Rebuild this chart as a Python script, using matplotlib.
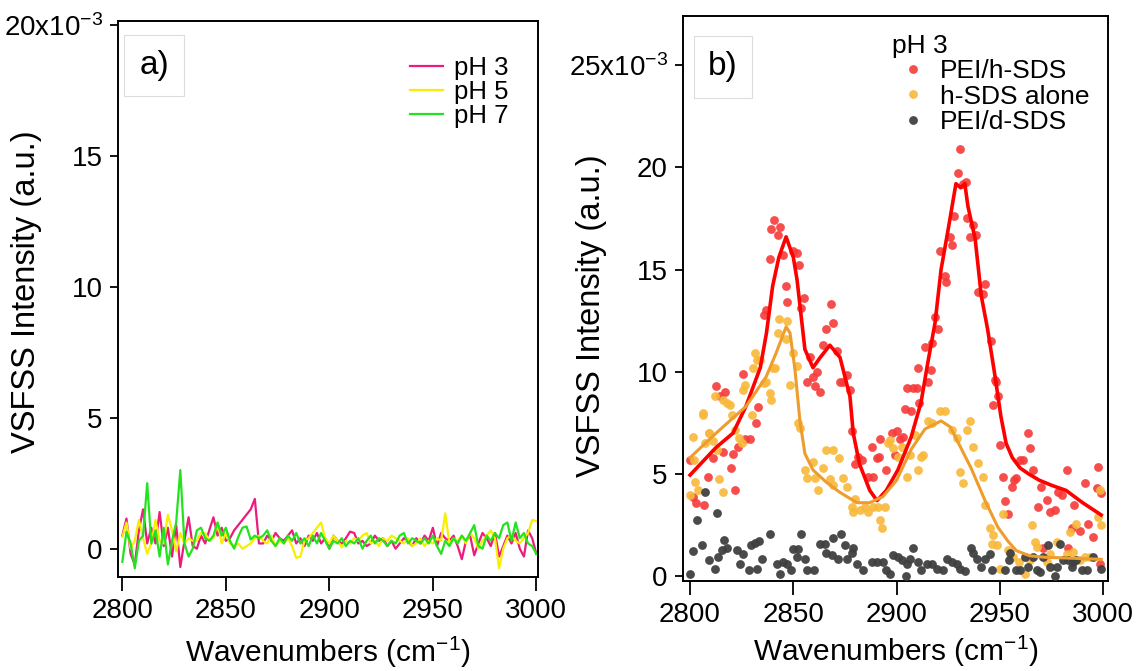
import numpy as np
import matplotlib
matplotlib.use('Agg')
import matplotlib.pyplot as plt
from matplotlib.ticker import FuncFormatter, MultipleLocator
from matplotlib.patches import Rectangle

plt.rcParams['font.family'] = ['Liberation Sans', 'DejaVu Sans']
plt.rcParams['mathtext.default'] = 'regular'

# ---- panel a) : spectra at three pH values (x10^-3) ----
wn = np.arange(2800, 3001, 2)

ph3 = [0.5, 1.15, -0.2, -0.6, 0.7, 1.5, 0.2, 0.8, 0.2, 1.4,
       0.1, 0.8, -0.3, 0.9, -0.7, 0.3, 1.2, 0.1, 0.0, 0.5,
       0.2, 0.7, 1.2, 0.5, 0.8, 0.3, 0.4, 0.7, 0.9, 1.1,
       1.3, 1.5, 1.9, 0.2,
       0.2, 0.5, 0.3, 0.6, 0.4, 0.3, 0.5, 0.7, 0.2, 0.4,
       0.1, 0.5, 0.3, 0.6, 0.2, 0.4, 0.0, 0.5, 0.3, 0.2,
       0.4, 0.65, 0.6, 0.2, 0.3, 0.1, 0.2, 0.5, 0.3, 0.4,
       0.1, 0.3, 0.0, 0.2, 0.4, 0.3, 0.1, 0.4, 0.2, 0.5,
       0.3, 0.8, 0.1, 0.6, 0.4, 0.3, 0.5, 0.1, -0.4, 0.3,
       0.5, -0.25, 0.2, 0.6, 0.4, 0.1, 0.6, -0.3, 0.1, 0.5,
       0.2, 0.6, 0.0, -0.3, 0.7, 0.4, -0.2]
ph5 = [0.45, 1.0, 0.0, 0.3, 1.1, 0.4, -0.2, 0.2, 1.1, 0.3,
       0.2, 1.3, 0.7, -0.1, 0.6, 0.2, 0.4, 0.3, 0.3, 0.6,
       0.6, 0.3, 0.4, 1.0, 0.2, 0.6, 0.2, 0.1, 0.2, 0.0,
       0.1, 0.2, 0.4, 0.5,
       0.3, 0.2, 0.5, 0.1, 0.3, 0.2, 0.4, 0.1, -0.35, -0.3,
       0.3, 0.4, 0.6, 0.8, 1.0, 0.4, 0.2, 0.5, 0.3, 0.05,
       0.3, 0.2, 0.4, 0.3, 0.5, 0.6, 0.2, 0.3, 0.1, 0.4,
       0.3, 0.5, 0.4, 0.3, 0.2, 0.4, 0.1, 0.2, 0.4, 0.1,
       0.3, 0.2, 0.4, 0.3, 1.35, 0.2, 0.4, 0.3, 0.5, 0.2,
       0.6, 0.4, 0.0, 0.3, 0.5, 0.7, 0.4, -0.75, 0.0, 0.4,
       0.5, 0.3, 0.2, 0.4, 0.6, 1.1, 1.05]
ph7 = [-0.5, 0.65, 0.2, -0.75, 0.3, 0.5, 2.5, 0.2, 0.7, -0.3,
       0.8, -0.6, 0.3, 1.0, 3.0, 0.2, -0.3, 0.0, 0.7, 0.8,
       0.4, 0.3, 0.5, 1.0, 0.5, 0.8, 0.3, 0.0, 0.45, 0.8,
       0.85, 0.35, 0.5, 0.4,
       0.5, 0.7, 0.3, 0.1, 0.4, 0.2, 0.5, 0.3, 0.6, 0.2,
       0.4, 0.1, 0.5, 0.2, 0.6, 0.3, 0.0, 0.3, 0.2, 0.4,
       0.1, 0.3, 0.2, 0.4, 0.0, 0.3, 0.5, 0.2, 0.4, 0.3,
       0.1, 0.3, 0.2, 0.5, 0.6, 0.2, 0.4, 0.3, 0.2, 0.4,
       0.2, 0.5, 0.1, -0.2, 0.3, 0.1, 0.4, 0.2, 0.5, 0.3,
       0.6, 0.9, 0.1, 0.0, 0.5, 0.3, 0.6, 0.4, 0.9, 1.0,
       0.3, 1.0, 0.4, 0.6, 0.2, 0.1, -0.2]

# ---- panel b) : pH 3, scatter + fits (x10^-3) ----
red_x = [2800, 2801.5, 2803, 2807, 2808.7, 2811, 2812.6, 2814.5, 2816, 2817,
         2819.6, 2822, 2821, 2823, 2826.6, 2825.6, 2829, 2832, 2833, 2836,
         2836.8, 2838.7, 2839.4, 2840.6, 2843.5, 2842.6, 2845, 2846.3, 2847, 2849.8,
         2851.8, 2852.7, 2855, 2853.7, 2858, 2856.6, 2859.5, 2860.5, 2861.4, 2863,
         2864.4, 2866, 2868, 2869, 2871, 2872.6, 2874.2, 2876, 2877.4, 2878.4,
         2880, 2881.5, 2883, 2886, 2888, 2888.7, 2890.5, 2891.6, 2892, 2895,
         2897.7, 2899.2, 2900, 2901.6, 2903, 2904, 2904.8, 2907, 2908, 2909.7,
         2910.5, 2911, 2913.7, 2915, 2916.6, 2917, 2918.6, 2920, 2921, 2923.4,
         2924, 2926, 2926.6, 2928, 2929.7, 2930.6, 2932, 2933.6, 2934, 2935.5,
         2937, 2938.4, 2939.4, 2942.8, 2941.8, 2945.6, 2947.6, 2948, 2946.6, 2949,
         2950, 2951.6, 2952.4, 2954, 2955.6, 2957, 2958, 2959.7, 2961, 2963.7,
         2964.5, 2966, 2968.5, 2970, 2971, 2972.6, 2974.2, 2976.6, 2978, 2979.8,
         2982.3, 2983, 2984.7, 2986, 2988.7, 2991, 2992.7, 2995, 2997.6, 2999,
         2996.8, 2998.4]
red_y = [5.7, 3.9, 3.6, 3.5, 4.85, 5.8, 9.3, 8.8, 6.1, 9.0,
         5.3, 4.2, 6.0, 6.3, 6.7, 9.9, 6.7, 7.5, 8.3, 12.8,
         13.0, 15.5, 17.0, 17.4, 17.1, 16.7, 15.7, 14.2, 13.4, 15.9,
         15.8, 15.2, 13.6, 13.1, 10.7, 9.5, 9.75, 9.3, 10.0, 9.0,
         11.3, 12.1, 13.3, 12.4, 11.0, 9.5, 9.5, 9.85, 9.1, 7.1,
         5.5, 5.85, 5.7, 4.85, 6.3, 4.87, 5.8, 5.85, 6.7, 5.2,
         7.0, 5.93, 7.1, 6.7, 6.8, 8.2, 9.2, 8.1, 9.2, 9.2,
         10.2, 8.46, 11.2, 9.5, 10.1, 11.4, 12.7, 12.1, 15.9, 14.7,
         14.4, 16.6, 16.2, 17.6, 19.7, 20.9, 19.2, 19.3, 17.5, 16.6,
         17.2, 16.7, 13.9, 14.3, 13.8, 11.5, 9.6, 9.5, 8.4, 8.8,
         6.4, 4.87, 3.7, 3.07, 4.38, 4.7, 4.79, 5.69, 5.7, 7.0,
         6.26, 5.2, 3.4, 4.38, 1.4, 3.73, 3.15, 3.24, 4.13, 3.97,
         5.2, 1.4, 2.34, 3.48, 2.2, 4.54, 2.58, 1.93, 5.36, 4.05,
         4.3, 0.62]

orange_x = [2800, 2801.5, 2801.9, 2802.4, 2804, 2806.3, 2806.5, 2807.3, 2809.2, 2809.4,
            2811.3, 2812, 2812.9, 2814.2, 2815.8, 2816, 2817.7, 2819.4, 2820.2, 2821.8,
            2823.9, 2825, 2825.6, 2826.6, 2829.8, 2830.5, 2831.3, 2832.3, 2833.9, 2836,
            2836.9, 2838.6, 2839.3, 2840, 2841, 2842.4, 2843.2, 2846.5, 2847, 2848.2,
            2850, 2851.6, 2852.4, 2853.2, 2855.6, 2856.5, 2859.7, 2860.5, 2862, 2864.5,
            2866, 2867.7, 2869.4, 2869.4, 2872.3, 2874.2, 2875.8, 2878.2, 2879, 2879.8,
            2882.3, 2884.7, 2886.3, 2888.7, 2891, 2892, 2892.7, 2894.4, 2896, 2896.8,
            2898.4, 2900.8, 2902.4, 2905, 2906.5, 2909, 2910.5, 2912, 2913, 2915.3,
            2917, 2921, 2923.4, 2926.6, 2929, 2930.6, 2932.3, 2933.9, 2935.5, 2937,
            2939.5, 2942, 2942.7, 2945, 2946, 2946.8, 2948.4, 2950, 2951.6, 2954,
            2956.5, 2959, 2962, 2964.5, 2965.3, 2967, 2967.7, 2972.6, 2974.2, 2977.4,
            2982.3, 2984, 2985.5, 2987, 2988.7, 2991, 2993.5, 2997.6, 2998.4, 2999]
orange_y = [3.97, 6.8, 5.69, 4.6, 4.2, 8.0, 7.9, 6.5, 7.0, 7.0,
            6.6, 8.8, 6.2, 4.74, 4.13, 8.63, 8.46, 8.38, 7.9, 7.16,
            6.75, 6.5, 9.1, 9.36, 7.9, 10.2, 10.9, 10.6, 10.6, 9.44,
            9.5, 8.95, 8.6, 10.2, 10.2, 11.9, 12.6, 11.6, 12.5, 9.36,
            10.9, 10.3, 7.48, 7.24, 5.2, 4.79, 5.6, 4.79, 4.2, 5.28,
            6.2, 4.74, 6.2, 4.46, 5.77, 4.79, 4.38, 3.4, 3.15, 3.76,
            3.24, 3.4, 3.15, 3.4, 3.4, 2.75, 2.34, 3.4, 6.5, 6.67,
            6.26, 5.85, 6.34, 4.87, 5.93, 6.9, 5.2, 5.85, 5.93, 7.57,
            7.48, 8.1, 8.1, 7.16, 6.75, 5.11, 4.54, 7.16, 7.57, 6.34,
            5.52, 4.87, 3.48, 2.34, 1.6, 2.0, 1.52, 0.38, 3.07, 1.27,
            0.95, 0.7, 0.13, 0.78, 2.5, 1.68, 1.44, 0.7, 1.1, 1.68,
            1.1, 2.17, 1.19, 2.58, 0.78, 0.95, 0.95, 2.9, 4.2, 2.5]

gray_x = [2800, 2801.6, 2803.5, 2805.6, 2807.3, 2809.4, 2812, 2812.9, 2813.7, 2815.3,
          2816.6, 2817.7, 2822.6, 2824.2, 2825.8, 2828.7, 2829.5, 2831.5, 2832.6, 2833.4,
          2835, 2838.7, 2842.3, 2843.5, 2845, 2847, 2849, 2849.7, 2851.6, 2852.4,
          2853.7, 2855.6, 2856.5, 2860, 2863, 2865.3, 2866, 2868.5, 2869.4, 2871.8,
          2873, 2875, 2875.8, 2878.2, 2878.7, 2880.6, 2883.9, 2888, 2890.3, 2893.5,
          2894.8, 2897, 2898.4, 2900.8, 2902.4, 2904.5, 2904.8, 2906.5, 2908, 2910.5,
          2912, 2914.5, 2917, 2919.4, 2922.6, 2924.2, 2926.6, 2929, 2930.6, 2933,
          2935.8, 2937, 2938.7, 2941, 2942.7, 2945, 2946, 2952.4, 2954.5, 2954.8,
          2958, 2959.7, 2962, 2963.7, 2966, 2967.7, 2969.4, 2971, 2973.4, 2974.2,
          2976.6, 2977.4, 2979, 2980.6, 2983, 2984.7, 2985.5, 2987, 2989.5, 2992,
          2995, 2999]
gray_y = [0.13, 1.24, 2.75, 1.52, 4.13, 0.78, 0.38, 3.1, 0.95, 1.27,
          1.76, 1.36, 1.27, 0.62, 1.1, 0.29, 1.52, 1.63, 0.38, 1.72,
          0.83, 2.09, 0.59, 0.13, 0.7, 0.59, 0.29, 1.32, 0.95, 1.32,
          2.09, 0.83, 0.29, 0.33, 1.6, 1.6, 1.14, 1.03, 1.85, 0.83,
          2.09, 1.52, 0.83, 1.14, 1.36, 0.59, 0.29, 0.7, 0.7, 0.7,
          0.29, 0.1, 1.03, 0.95, 0.78, 0.0, 0.59, 0.83, 1.39, 0.7,
          0.29, 0.59, 0.62, 0.38, 0.29, 0.83, 0.7, 0.59, 0.38, 0.26,
          1.36, 1.14, 0.83, 0.46, 0.83, 1.1, 0.29, 0.29, 0.78, 1.14,
          0.29, 0.29, 0.95, 0.46, 0.95, 0.29, 0.21, 0.95, 1.52, 0.46,
          0.0, 0.46, 1.6, 0.78, 0.78, 0.46, 0.7, 0.78, 0.29, 0.29,
          0.95, 0.38]

# fitted curves
fit_red_x = [2800, 2812.6, 2820.8, 2827, 2834, 2837, 2840, 2843, 2846.5, 2850,
             2851.8, 2855.6, 2859.5, 2863, 2867.7, 2872.6, 2877.4, 2879, 2882, 2887,
             2890.5, 2895, 2900.6, 2907, 2911.8, 2915, 2918.6, 2921.5, 2925, 2928.7,
             2931, 2933, 2934.5, 2938, 2941, 2944, 2947.6, 2950.5, 2953, 2956,
             2959.7, 2964, 2969, 2975, 2982, 2990, 2999]
fit_red_y = [4.95, 6.3, 7.0, 8.3, 10.2, 11.9, 14.2, 15.6, 16.6, 15.6,
             14.5, 11.1, 10.2, 10.7, 11.3, 10.7, 8.8, 7.0, 5.5, 4.2,
             3.7, 4.2, 5.2, 6.8, 8.5, 10.4, 12.4, 15.0, 17.0, 19.2,
             19.0, 19.2, 18.1, 16.5, 13.7, 12.1, 9.8, 7.8, 6.5, 5.8,
             5.3, 5.0, 4.7, 4.45, 4.2, 3.6, 3.0]
fit_or_x = [2800, 2812.6, 2827, 2836.8, 2841.6, 2846.5, 2848.4, 2850.8, 2853.2, 2855.6,
            2859.5, 2866, 2872.6, 2880.8, 2887, 2893.4, 2900, 2907, 2913.7, 2921.5,
            2926, 2931, 2936, 2942.8, 2949, 2954, 2958, 2964.5, 2972, 2980.5, 2999]
fit_or_y = [5.8, 7.0, 8.3, 9.75, 10.9, 12.2, 11.9, 10.1, 7.6, 6.0,
            5.2, 4.6, 4.1, 3.6, 3.6, 3.9, 4.7, 6.2, 7.2, 7.6,
            7.3, 6.3, 5.3, 3.7, 2.4, 1.7, 1.25, 1.0, 0.93, 0.9, 0.83]

W, H = 1136, 671
fig = plt.figure(figsize=(W / 100, H / 100), dpi=100)
ax1 = fig.add_axes([118 / W, 1 - 577 / H, 420 / W, 556 / H])
ax2 = fig.add_axes([683 / W, 1 - 581 / H, 425 / W, 565 / H])

ax1.plot(wn, ph3, color='#EC1C7C', lw=1.6, label='pH 3')
ax1.plot(wn, ph5, color='#F8EE00', lw=1.6, label='pH 5')
ax1.plot(wn, ph7, color='#22E41E', lw=1.6, label='pH 7')

ax2.scatter(red_x, red_y, s=40, color='#F53A3A', alpha=0.9, lw=0, label='PEI/h-SDS', zorder=3)
ax2.scatter(orange_x, orange_y, s=40, color='#F8B83A', alpha=0.9, lw=0, label='h-SDS alone', zorder=3)
ax2.scatter(gray_x, gray_y, s=40, color='#404040', alpha=0.95, lw=0, label='PEI/d-SDS', zorder=3)
ax2.plot(fit_red_x, fit_red_y, color='#FF0000', lw=2.6, zorder=4)
ax2.plot(fit_or_x, fit_or_y, color='#EE9C2C', lw=2.2, zorder=4)


def yfmt(top):
    def f(v, pos):
        if abs(v - top) < 1e-6:
            return '%dx10$^{-3}$' % v
        return '%d' % v
    return FuncFormatter(f)


for ax, ylim, top in [(ax1, (-1.08, 20.14), 20), (ax2, (-0.23, 27.4), 25)]:
    ax.set_ylim(*ylim)
    ax.yaxis.set_major_locator(MultipleLocator(5))
    ax.yaxis.set_major_formatter(yfmt(top))
    ax.xaxis.set_major_locator(MultipleLocator(50))
    ax.tick_params(direction='out', width=1.3, labelsize=20, top=False, right=False)
    ax.tick_params(axis='x', length=10, pad=5)
    ax.tick_params(axis='y', length=6, pad=5)
    for sp in ax.spines.values():
        sp.set_linewidth(1.4)
    ax.set_xlabel('Wavenumbers (cm$^{-1}$)', fontsize=21.5)
    ax.set_ylabel('VSFSS Intensity (a.u.)', fontsize=23.5)

ax1.set_xlim(2797.9, 3000.8)
ax2.set_xlim(2796.6, 3002.3)
ax1.xaxis.set_label_coords(0.5, -0.104)
ax2.xaxis.set_label_coords(0.5, -0.093)
ax1.yaxis.set_label_coords(-0.181, 0.513)
ax2.yaxis.set_label_coords(-0.179, 0.47)

# panel tags in light boxes
for (x0, y0, x1, y1), tag in [((124, 35, 184, 96), 'a)'), ((694, 36, 752, 98), 'b)')]:
    fig.patches.append(Rectangle((x0 / W, 1 - y1 / H), (x1 - x0) / W, (y1 - y0) / H,
                                 transform=fig.transFigure, fc='white', ec='#DCDCDC', lw=0.8))
    fig.text((x0 + x1) / 2 / W, 1 - (y0 + y1) / 2 / H, tag, fontsize=24,
             ha='center', va='center')

ax1.legend(loc='upper left', bbox_to_anchor=(410 / W, 1 - 56 / H), bbox_transform=fig.transFigure,
           frameon=False, fontsize=18.5, handlelength=1.3, handletextpad=0.4,
           labelspacing=0.0, borderpad=0, borderaxespad=0)
ax2.legend(loc='upper left', bbox_to_anchor=(892 / W, 1 - 34 / H), bbox_transform=fig.transFigure,
           frameon=False, fontsize=19, title='pH 3', title_fontsize=19, alignment='left',
           handlelength=1.6, handletextpad=0.2, labelspacing=0.05, borderpad=0,
           borderaxespad=0, scatteryoffsets=[0.5])

fig.savefig('out.png', dpi=100)
